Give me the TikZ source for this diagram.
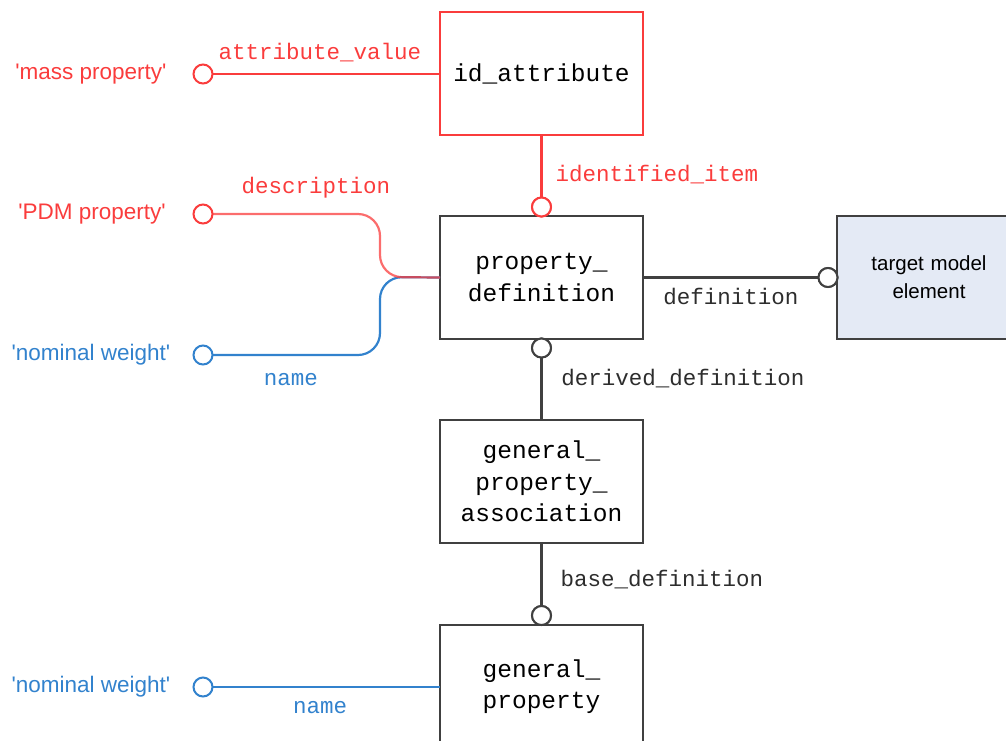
\documentclass[tikz,border=0pt]{standalone}
\usepackage{fontspec}
\setmainfont{Liberation Sans}
\newfontfamily\monof{Liberation Mono}
\begin{document}
\begin{tikzpicture}[x=1pt,y=-1pt,
  every node/.style={inner sep=0pt, outer sep=0pt},
  box/.style={draw=lineg, line width=2pt, fill=white, minimum width=203pt, minimum height=123pt, align=center, font=\monof\fontsize{24.5}{31.5}\selectfont},
  lbl/.style={font=\monof\fontsize{22.5}{26}\selectfont, text height=14pt, text depth=4pt},
  val/.style={font=\fontsize{22.5}{24}\selectfont, text height=15pt, text depth=4pt},
  ring/.style={circle, draw, line width=2pt, fill=white, minimum size=19pt},
  conn/.style={line width=2.2pt}]
\definecolor{lineg}{RGB}{64,64,64}
\definecolor{rred}{RGB}{250,60,60}
\definecolor{bblue}{RGB}{50,130,205}
\definecolor{tfill}{RGB}{228,234,245}
\useasboundingbox (0,0) rectangle (1006,740);
\clip (0,0) rectangle (1006,740);
% boxes
\node[box, draw=rred] (ida) at (541.5,73.5) {id\_attribute};
\node[box] (pd) at (541.5,277.5) {property\_\\definition};
\node[box, fill=tfill, font=\fontsize{20.5}{28}\selectfont, text width=180pt, minimum width=184pt] (tme) at (929,277.5) {target model\\element};
\node[box] (gpa) at (541.5,481.5) {general\_\\property\_\\association};
\node[box] (gp) at (541.5,686.5) {general\_\\property};
% value texts
\node[val, text=rred] (v1) at (91,74) {\textquotesingle mass property\textquotesingle};
\node[val, text=rred] (v2) at (92,214) {\textquotesingle PDM property\textquotesingle};
\node[val, text=bblue] (v3) at (91,355) {\textquotesingle nominal weight\textquotesingle};
\node[val, text=bblue] (v4) at (91,687) {\textquotesingle nominal weight\textquotesingle};
% rings
\node[ring, draw=rred] (r1) at (203,74) {};
\node[ring, draw=rred] (r2) at (203,214) {};
\node[ring, draw=bblue] (r3) at (203,355) {};
\node[ring, draw=bblue] (r4) at (203,687) {};
\coordinate (m) at (380,277);
% connectors
\draw[conn, rred] (r1.east) -- (ida.west |- r1.east);
\draw[conn, bblue, rounded corners=22pt] (r3.east) -| (m) -- (pd.west);
\draw[conn, rred, rounded corners=22pt, opacity=0.75] (r2.east) -| (m) -- (pd.west);
\draw[conn, bblue] (r4.east) -- (gp.west |- r4.east);
\node[ring, draw=rred] (r5) at (541.5,207) {};
\draw[conn, rred] (ida.south) -- (r5.north);
\node[ring, draw=lineg] (r6) at (828,277.5) {};
\draw[conn, lineg] (pd.east) -- (r6.west);
\node[ring, draw=lineg] (r7) at (541.5,348) {};
\draw[conn, lineg] (r7.south) -- (gpa.north);
\node[ring, draw=lineg] (r8) at (541.5,615.5) {};
\draw[conn, lineg] (gpa.south) -- (r8.north);
% redraw rings on top
\node[ring, draw=rred] at (541.5,207) {};
\node[ring, draw=lineg] at (828,277.5) {};
\node[ring, draw=lineg] at (541.5,348) {};
\node[ring, draw=lineg] at (541.5,615.5) {};
% labels
\node[lbl, text=rred] (l1) at (320,54) {attribute\_value};
\node[lbl, text=rred] (l2) at (657,176) {identified\_item};
\node[lbl, text=rred] (l3) at (316,188) {description};
\node[lbl, text=bblue] (l4) at (291,380) {name};
\node[lbl, text=lineg!70!black] (l5) at (731,299) {definition};
\node[lbl, text=lineg!70!black] (l6) at (683,380) {derived\_definition};
\node[lbl, text=lineg!70!black] (l7) at (662,581) {base\_definition};
\node[lbl, text=bblue] (l8) at (320,708) {name};
\end{tikzpicture}
\end{document}
